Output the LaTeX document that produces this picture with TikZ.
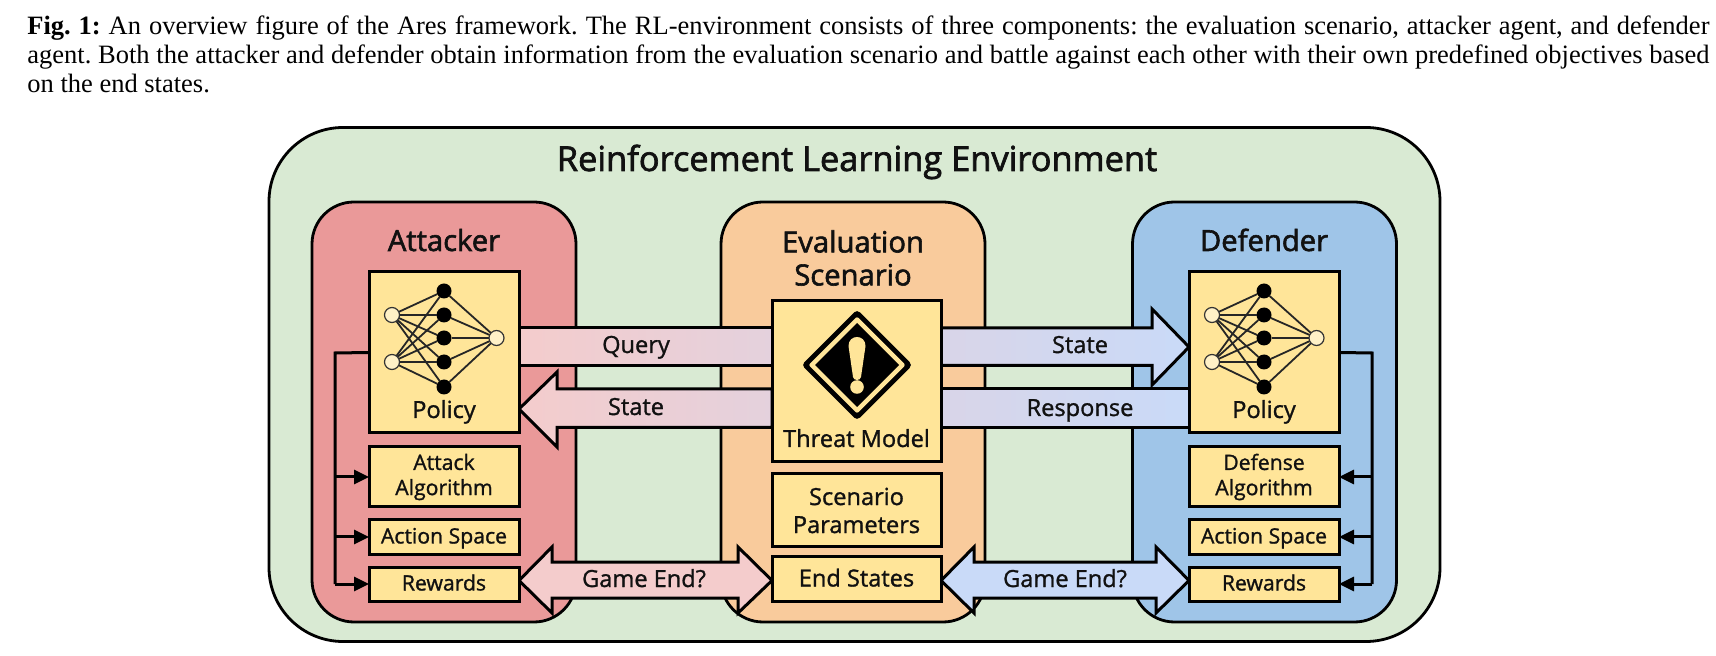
\documentclass[tikz,border=0pt]{standalone}
\usepackage{fontspec}
\setmainfont{Open Sans}[FakeBold=1.2]
\newfontfamily\hvyfont{Open Sans}[FakeBold=2]
\newfontfamily\capfont{Liberation Serif}
\usetikzlibrary{arrows.meta,calc}
\definecolor{envc}{HTML}{D9EAD3}
\definecolor{atkc}{HTML}{EA9999}
\definecolor{evac}{HTML}{F9CB9C}
\definecolor{defc}{HTML}{9FC5E8}
\definecolor{yelc}{HTML}{FFE599}
\definecolor{pnkc}{HTML}{F4CCCC}
\definecolor{bluc}{HTML}{C9DAF8}
\definecolor{midl}{HTML}{E4D1DD}
\definecolor{midr}{HTML}{D9D5E8}
\definecolor{inkc}{HTML}{111111}
\pgfdeclarelayer{groups}
\pgfdeclarelayer{bands}
\pgfsetlayers{groups,bands,main}
\tikzset{
  grp/.style={draw=black,line width=1.4pt,rounded corners=21pt,rectangle,outer sep=0pt,inner sep=0pt,minimum width=132pt,minimum height=210pt},
  ybox/.style={draw=black,fill=yelc,line width=1.5pt,rectangle,outer sep=0pt,inner sep=0pt,minimum width=75pt},
  band/.style={draw=black,line width=1.5pt,line join=miter,miter limit=10},
  lbl/.style={inner sep=0pt,text=inkc,font=\fontsize{10.6}{12.6}\selectfont,align=center},
  lblb/.style={inner sep=0pt,text=inkc,font=\fontsize{11.8}{14}\selectfont,align=center},
  one/.style={text height=9pt,text depth=2pt},
  onesm/.style={text height=8.5pt,text depth=2pt},
  head/.style={inner sep=0pt,text=inkc,font=\hvyfont\fontsize{14.6}{17}\selectfont,align=center},
  bus/.style={draw=black,line width=1.5pt,line join=miter},
  busarrow/.style={bus,-{Triangle[length=7.5pt,width=7pt]}},
  nnw/.style={line width=.9pt,draw=black!85},
  nnb/.style={circle,fill=black,inner sep=0pt,minimum size=7.5pt,outer sep=0pt},
  nno/.style={circle,draw=black!80,line width=.6pt,fill=yelc!55!white,inner sep=0pt,minimum size=7.5pt,outer sep=0pt},
}
\newcommand{\neuralnet}[2]{%
  \begin{scope}[shift={(#1)},name prefix=#2]
    \node[nnb] (b1) at (0,-61.5) {};
    \node[nnb] (b2) at (0,-37.5) {};
    \node[nnb] (b3) at (0,-14.5) {};
    \node[nnb] (b4) at (0,9.5) {};
    \node[nnb] (b5) at (0,34.5) {};
    \foreach \k in {1,...,5}{
      \draw[nnw] (-52,-37.5) -- (b\k);
      \draw[nnw] (-52,9.5) -- (b\k);
      \draw[nnw] (b\k) -- (52.5,-14.5);
    }
    \node[nno] (i1) at (-52,-37.5) {};
    \node[nno] (i2) at (-52,9.5) {};
    \node[nno] (o1) at (52.5,-14.5) {};
  \end{scope}}
\begin{document}
\begin{tikzpicture}[x=0.5pt,y=-0.5pt]
\useasboundingbox (0,0) rectangle (1716,656);
\node[anchor=north west,inner sep=0pt,text width=841pt,align=justify,font=\capfont\fontsize{13.25}{14.7}\selectfont\frenchspacing] (caption) at (27,15)
 {\textbf{Fig. 1:} An overview figure of the Ares framework. The RL-environment consists of three components: the evaluation scenario, attacker agent, and defender\linebreak agent. Both the attacker and defender obtain information from the evaluation scenario and battle against each other with their own predefined objectives based\linebreak on the end states.};

% yellow boxes
\node[ybox,minimum height=80.5pt] (polA) at (444,352.5) {};
\node[ybox,minimum height=30pt] (algA) at (444,477) {};
\node[ybox,minimum height=17pt] (actA) at (444,537) {};
\node[ybox,minimum height=17pt] (rewA) at (444,584) {};
\node[ybox,minimum height=80.5pt] (polD) at (1264,352.5) {};
\node[ybox,minimum height=30pt] (algD) at (1264,477) {};
\node[ybox,minimum height=17pt] (actD) at (1264,537) {};
\node[ybox,minimum height=17pt] (rewD) at (1264,584) {};
\node[ybox,minimum width=84.5pt,minimum height=80.5pt] (thr) at (856.5,381.5) {};
\node[ybox,minimum width=84.5pt,minimum height=36.5pt] (par) at (856.5,510.5) {};
\node[ybox,minimum width=84.5pt,minimum height=22.5pt] (end) at (856.5,578.5) {};

\begin{pgfonlayer}{groups}
\node[rectangle,draw=black,line width=1.4pt,fill=envc,rounded corners=37pt,outer sep=0pt,minimum width=585.5pt,minimum height=257pt] (env) at (854.5,384.5) {};
\node[grp,fill=atkc] (atk) at (444,412) {};
\node[grp,fill=evac] (eva) at (853,412) {};
\node[grp,fill=defc] (dfn) at (1264.5,412) {};
\end{pgfonlayer}

\begin{pgfonlayer}{bands}
% Query
\draw[band,left color=pnkc,right color=midl] (polA.east |- 0,328) -- (thr.west |- 0,328) -- (thr.west |- 0,365.5) -- (polA.east |- 0,365.5) -- cycle;
% State left
\draw[band,left color=pnkc,right color=midl] (polA.east |- 0,409) -- (557,372) -- (557,389) -- (thr.west |- 0,389) -- (thr.west |- 0,427.5) -- (557,427.5) -- (557,447) -- cycle;
% State right
\draw[band,left color=midr,right color=bluc] (polD.west |- 0,347) -- (1152,309) -- (1152,328) -- (thr.east |- 0,328) -- (thr.east |- 0,365.5) -- (1152,365.5) -- (1152,385) -- cycle;
% Response
\draw[band,left color=midr,right color=bluc] (polD.west |- 0,389) -- (thr.east |- 0,389) -- (thr.east |- 0,427.5) -- (polD.west |- 0,427.5) -- cycle;
% Game End left
\draw[band,fill=pnkc] (rewA.east |- 0,580.5) -- (552,547) -- (552,562) -- (738,562) -- (738,547) -- (end.west |- 0,580.5) -- (738,613) -- (738,598) -- (552,598) -- (552,613) -- cycle;
% Game End right
\draw[band,fill=bluc] (end.east |- 0,580.5) -- (974,547) -- (974,562) -- (1156,562) -- (1156,547) -- (rewD.west |- 0,580.5) -- (1156,613) -- (1156,598) -- (974,598) -- (974,613) -- cycle;
\end{pgfonlayer}

% buses
\coordinate (busA) at (335,353);
\coordinate (busD) at (1372,353);
\draw[bus] (polA.west) -- (busA) -- (busA |- rewA.west);
\draw[busarrow] (busA |- algA.west) -- (algA.west);
\draw[busarrow] (busA |- actA.west) -- (actA.west);
\draw[busarrow] (busA |- rewA.west) -- (rewA.west);
\draw[bus] (polD.east) -- (busD) -- (busD |- rewD.east);
\draw[busarrow] (busD |- algD.east) -- (algD.east);
\draw[busarrow] (busD |- actD.east) -- (actD.east);
\draw[busarrow] (busD |- rewD.east) -- (rewD.east);

% networks
\neuralnet{polA.center}{na}
\neuralnet{polD.center}{nd}

% warning sign
\begin{scope}[shift={(857,365)}]
  \fill[black,rounded corners=2pt] (0,-55.5) -- (55.5,0) -- (0,55.5) -- (-55.5,0) -- cycle;
  \fill[yelc,rounded corners=1pt] (0,-48.5) -- (48.5,0) -- (0,48.5) -- (-48.5,0) -- cycle;
  \fill[black] (0,-42) -- (42,0) -- (0,42) -- (-42,0) -- cycle;
  \fill[yelc] (-8.5,-19) .. controls (-8.5,-31) and (8.5,-31) .. (8.5,-19) -- (4,12) .. controls (3.5,16) and (-3.5,16) .. (-4,12) -- cycle;
  \fill[yelc] (0,22) circle (3.4pt);
\end{scope}

% texts
\node[inner sep=0pt,text=inkc,font=\hvyfont\fontsize{17.2}{20}\selectfont,text height=13pt,text depth=3pt] (ttl) at (857,161) {Reinforcement Learning Environment};
\node[head,one] (tA) at (444,244) {Attacker};
\node[head] (tE) at (853,258) {Evaluation\\[-.5pt]Scenario};
\node[head,one] (tD) at (1264,244) {Defender};
\node[lblb,one] (lpA) at (444,411) {Policy};
\node[lblb,one] (lpD) at (1264,411) {Policy};
\node[lbl] (lalA) at (algA.center) {Attack\\Algorithm};
\node[lbl] (lalD) at (algD.center) {Defense\\Algorithm};
\node[lbl,onesm] (laA) at (actA.center) {Action Space};
\node[lbl,onesm] (laD) at (actD.center) {Action Space};
\node[lbl,onesm] (lrA) at (rewA.center) {Rewards};
\node[lbl,onesm] (lrD) at (rewD.center) {Rewards};
\node[lblb,one] (lt) at (856.5,440) {Threat Model};
\node[lblb] (lp) at (par.center) {Scenario\\Parameters};
\node[lblb,one] (le) at ([yshift=-0.5pt]end.center) {End States};
\node[lblb,one] (q) at (636,346) {Query};
\node[lblb,one] (s1) at (636,408) {State};
\node[lblb,one] (s2) at (1080,346) {State};
\node[lblb,one] (r) at (1080,409) {Response};
\node[lblb,one] (g1) at (644,580) {Game End?};
\node[lblb,one] (g2) at (1065,580) {Game End?};
\end{tikzpicture}
\end{document}
